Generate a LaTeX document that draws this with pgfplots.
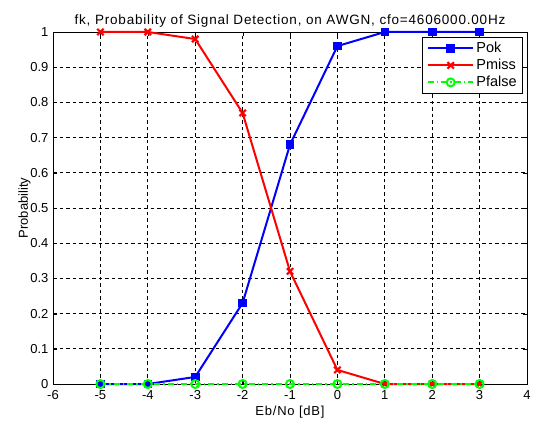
\documentclass[border=0pt]{standalone}
\usepackage{fontspec}
\setmainfont{Liberation Sans}
\newfontfamily\widefont[LetterSpace=6]{Liberation Sans}
\usepackage{pgfplots}
\pgfplotsset{compat=1.18}
\definecolor{mblue}{RGB}{0,0,255}
\definecolor{mred}{RGB}{255,0,0}
\definecolor{mgreen}{RGB}{0,255,0}
\begin{document}
\begin{tikzpicture}
\path[use as bounding box] (-53pt,-39pt) rectangle (481pt,384pt);
\begin{axis}[
  at={(0,0)},anchor=south west,
  scale only axis,
  width=474pt,height=352pt,
  xmin=-6,xmax=4,ymin=0,ymax=1,
  xtick={-6,-5,...,4},
  ytick={0,0.1,...,1},
  yticklabel style={/pgf/number format/fixed,xshift=-1pt},
  xticklabel style={yshift=-3pt},
  font=\fontsize{13}{15}\selectfont,
  /pgf/number format/assume math mode=true,
  grid=major,
  major grid style={black,dash pattern=on 3.5pt off 3pt,line width=0.7pt},
  axis line style={black,line width=0.9pt},
  tick style={black},
  tick align=inside,
  title={\widefont fk, Probability of Signal Detection, on AWGN, cfo=4606000.00Hz},
  title style={yshift=-5pt,font=\fontsize{13.5}{15}\selectfont},
  xlabel={\widefont Eb/No [dB]},
  ylabel={Probability},
  xlabel style={yshift=1pt},
  ylabel style={yshift=-7pt},
  clip=false,
  legend cell align=left,
  legend style={at={(0.992,0.986)},anchor=north east,draw=black,line width=0.9pt,
    font=\fontsize{14.5}{16}\selectfont,row sep=1pt,
    inner xsep=4pt,inner ysep=3pt},
  legend image code/.code={%
    \draw[mark repeat=2,mark phase=2,#1] plot coordinates {(0cm,0cm)(0.8cm,0cm)(1.6cm,0cm)};},
]
\addplot[mblue,line width=2pt,mark=square*,mark size=3.3pt,mark options={solid}] coordinates {
(-5,0)(-4,0)(-3,0.02)(-2,0.23)(-1,0.68)(0,0.96)(1,1)(2,1)(3,1)};
\addplot[mred,line width=2pt,mark=x,mark size=4.5pt,mark options={solid,line width=2.2pt}] coordinates {
(-5,1)(-4,1)(-3,0.98)(-2,0.77)(-1,0.32)(0,0.04)(1,0)(2,0)(3,0)};
\addplot[mgreen,line width=2pt,dash pattern=on 6pt off 3pt on 1.5pt off 3pt,mark=o,mark size=4pt,mark options={solid,line width=2pt}] coordinates {
(-5,0)(-4,0)(-3,0)(-2,0)(-1,0)(0,0)(1,0)(2,0)(3,0)};
\legend{Pok,Pmiss,Pfalse}
\end{axis}
\end{tikzpicture}
\end{document}
